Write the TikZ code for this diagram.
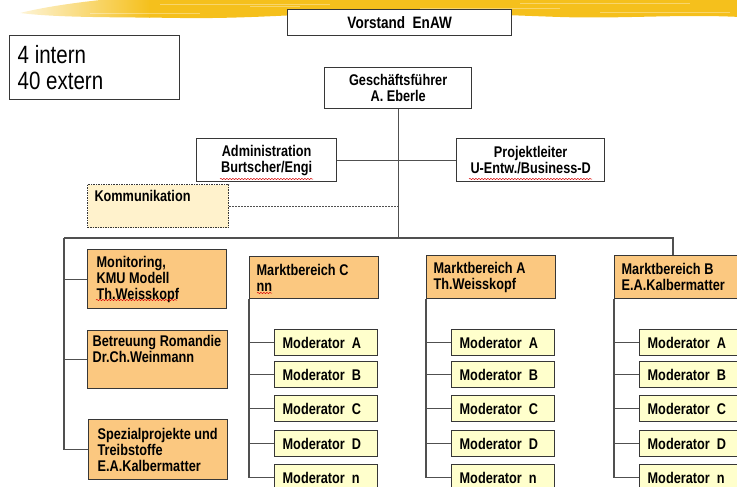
\documentclass[tikz,border=0pt]{standalone}
\usepackage{fontspec}
\setmainfont{Liberation Sans}[FakeStretch=0.82]
\usetikzlibrary{decorations.pathmorphing}
\definecolor{brush}{RGB}{245,192,28}
\definecolor{orgfill}{RGB}{251,200,128}
\definecolor{modfill}{RGB}{255,255,204}
\definecolor{komfill}{RGB}{255,242,204}
\definecolor{rim}{RGB}{55,55,55}
\definecolor{wirecol}{RGB}{80,80,80}
\tikzset{
  unit/.style={draw=rim, line width=1.3pt, inner ysep=0pt, inner xsep=7pt, anchor=north west,
    font=\bfseries\fontsize{15.5}{16}\selectfont,
    execute at begin node={\spaceskip=.23em\relax\hyphenpenalty=10000\relax}},
  headbox/.style={unit, fill=white, align=center},
  orgbox/.style={unit, fill=orgfill, align=left},
  modbox/.style={unit, fill=modfill, align=left, inner xsep=8pt, text width=87pt, minimum height=26pt},
  wire/.style={draw=wirecol, line width=1.1pt},
  typo/.style={draw=red!85!black, line width=0.5pt, decorate,
    decoration={snake, amplitude=0.6pt, segment length=3pt}}
}
\begin{document}
\begin{tikzpicture}[x=1pt,y=-1pt]
\useasboundingbox (0,0) rectangle (737,487);
\clip (0,0) rectangle (737,487);
\begin{scope}
  \clip (20,13) .. controls (40,8) and (70,3) .. (110,-1) -- (740,-1) -- (740,17)
    .. controls (680,14) and (620,19) .. (560,17) .. controls (500,15) and (440,12) .. (380,11)
    .. controls (320,13) and (250,19) .. (180,18) .. controls (120,17) and (60,18) .. (20,13) -- cycle;
  \shade[left color=brush!15, right color=brush] (15,-5) rectangle (150,22);
  \fill[brush] (149,-5) rectangle (740,22);
  \foreach \y/\a/\b in {4/160/330, 8/420/560, 12/600/730, 6/250/300, 13/90/200, 3/520/690}
    \draw[white, opacity=.35, line width=.8pt] (\a,\y) -- (\b,\y);
\end{scope}
\node[headbox, font=\bfseries\fontsize{16.5}{17}\selectfont, text width=224pt, inner xsep=0pt, minimum height=26pt]
  (vorstand) at (287,9) {Vorstand\ \ EnAW};
\node[unit, fill=white, align=left, font=\fontsize{25}{26}\selectfont, inner xsep=8pt, text width=154pt, minimum height=64pt]
  (staff) at (9,35) {4 intern\\40 extern};
\node[headbox, font=\bfseries\fontsize{15.5}{16}\selectfont, text width=147pt, inner xsep=0pt, minimum height=41pt]
  (gf) at (324,67) {Geschäftsführer\\A. Eberle};
\node[headbox, text width=140pt, inner xsep=0pt, minimum height=43pt]
  (adm) at (196,138) {Administration\\Burtscher/Engi};
\node[headbox, text width=148pt, inner xsep=0pt, minimum height=43pt]
  (pl) at (456,138) {Projektleiter\\U-Entw./Business-D};
\node[unit, fill=komfill, align=left, dash pattern=on 1.5pt off 1pt, line width=1pt, text width=127pt, minimum height=43pt]
  (kom) at (87,184) {Kommunikation\\\strut};
\node[orgbox, inner xsep=9pt, text width=121pt, minimum height=59pt]
  (mon) at (87,249) {Monitoring,\\KMU~Modell\\Th.Weisskopf};
\node[orgbox, inner xsep=5pt, text width=130pt, minimum height=58pt]
  (rom) at (87,330) {Betreuung~Romandie\\Dr.Ch.Weinmann\\\strut};
\node[orgbox, inner xsep=9pt, text width=121pt, minimum height=60pt]
  (spez) at (88,419) {Spezialprojekte~und\\Treibstoffe\\E.A.Kalbermatter};
\node[orgbox, text width=115pt, minimum height=42pt] (mbC) at (249,256) {Marktbereich~C\\nn};
\node[orgbox, text width=115pt, minimum height=43pt] (mbA) at (426,255) {Marktbereich~A\\Th.Weisskopf};
\node[orgbox, text width=115pt, minimum height=43pt] (mbB) at (614,255) {Marktbereich~B\\E.A.Kalbermatter};
\coordinate (busL) at (64,238);
\coordinate (busR) at (673,238);
\draw[wire] (gf.south) -- (gf.south |- busL);
\draw[wire] (busL) -- (busR) -- (busR |- mbB.north);
\draw[wire] (adm.east) -- (pl.west);
\draw[wire, line width=.9pt, dash pattern=on 2pt off 1pt] (kom.east) -- (kom.east -| gf.south);
\foreach \b in {mon,rom,spez}
  \draw[wire] (busL) |- (\b.west);
\foreach \col/\xa in {C/274,A/451,B/639} {
  \foreach \m/\ya in {A/329,B/361,C/395,D/430,n/464} {
    \node[modbox] (mod\col\m) at (\xa,\ya) {Moderator\ \ \m};
    \draw[wire] (mb\col.south west) |- (mod\col\m.west);
  }
}
\draw[typo] (220,179) -- (313,179);
\draw[typo] (469,179) -- (592,179);
\draw[typo] (96,300) -- (177,300);
\draw[typo] (257,293) -- (272,293);
\end{tikzpicture}
\end{document}
